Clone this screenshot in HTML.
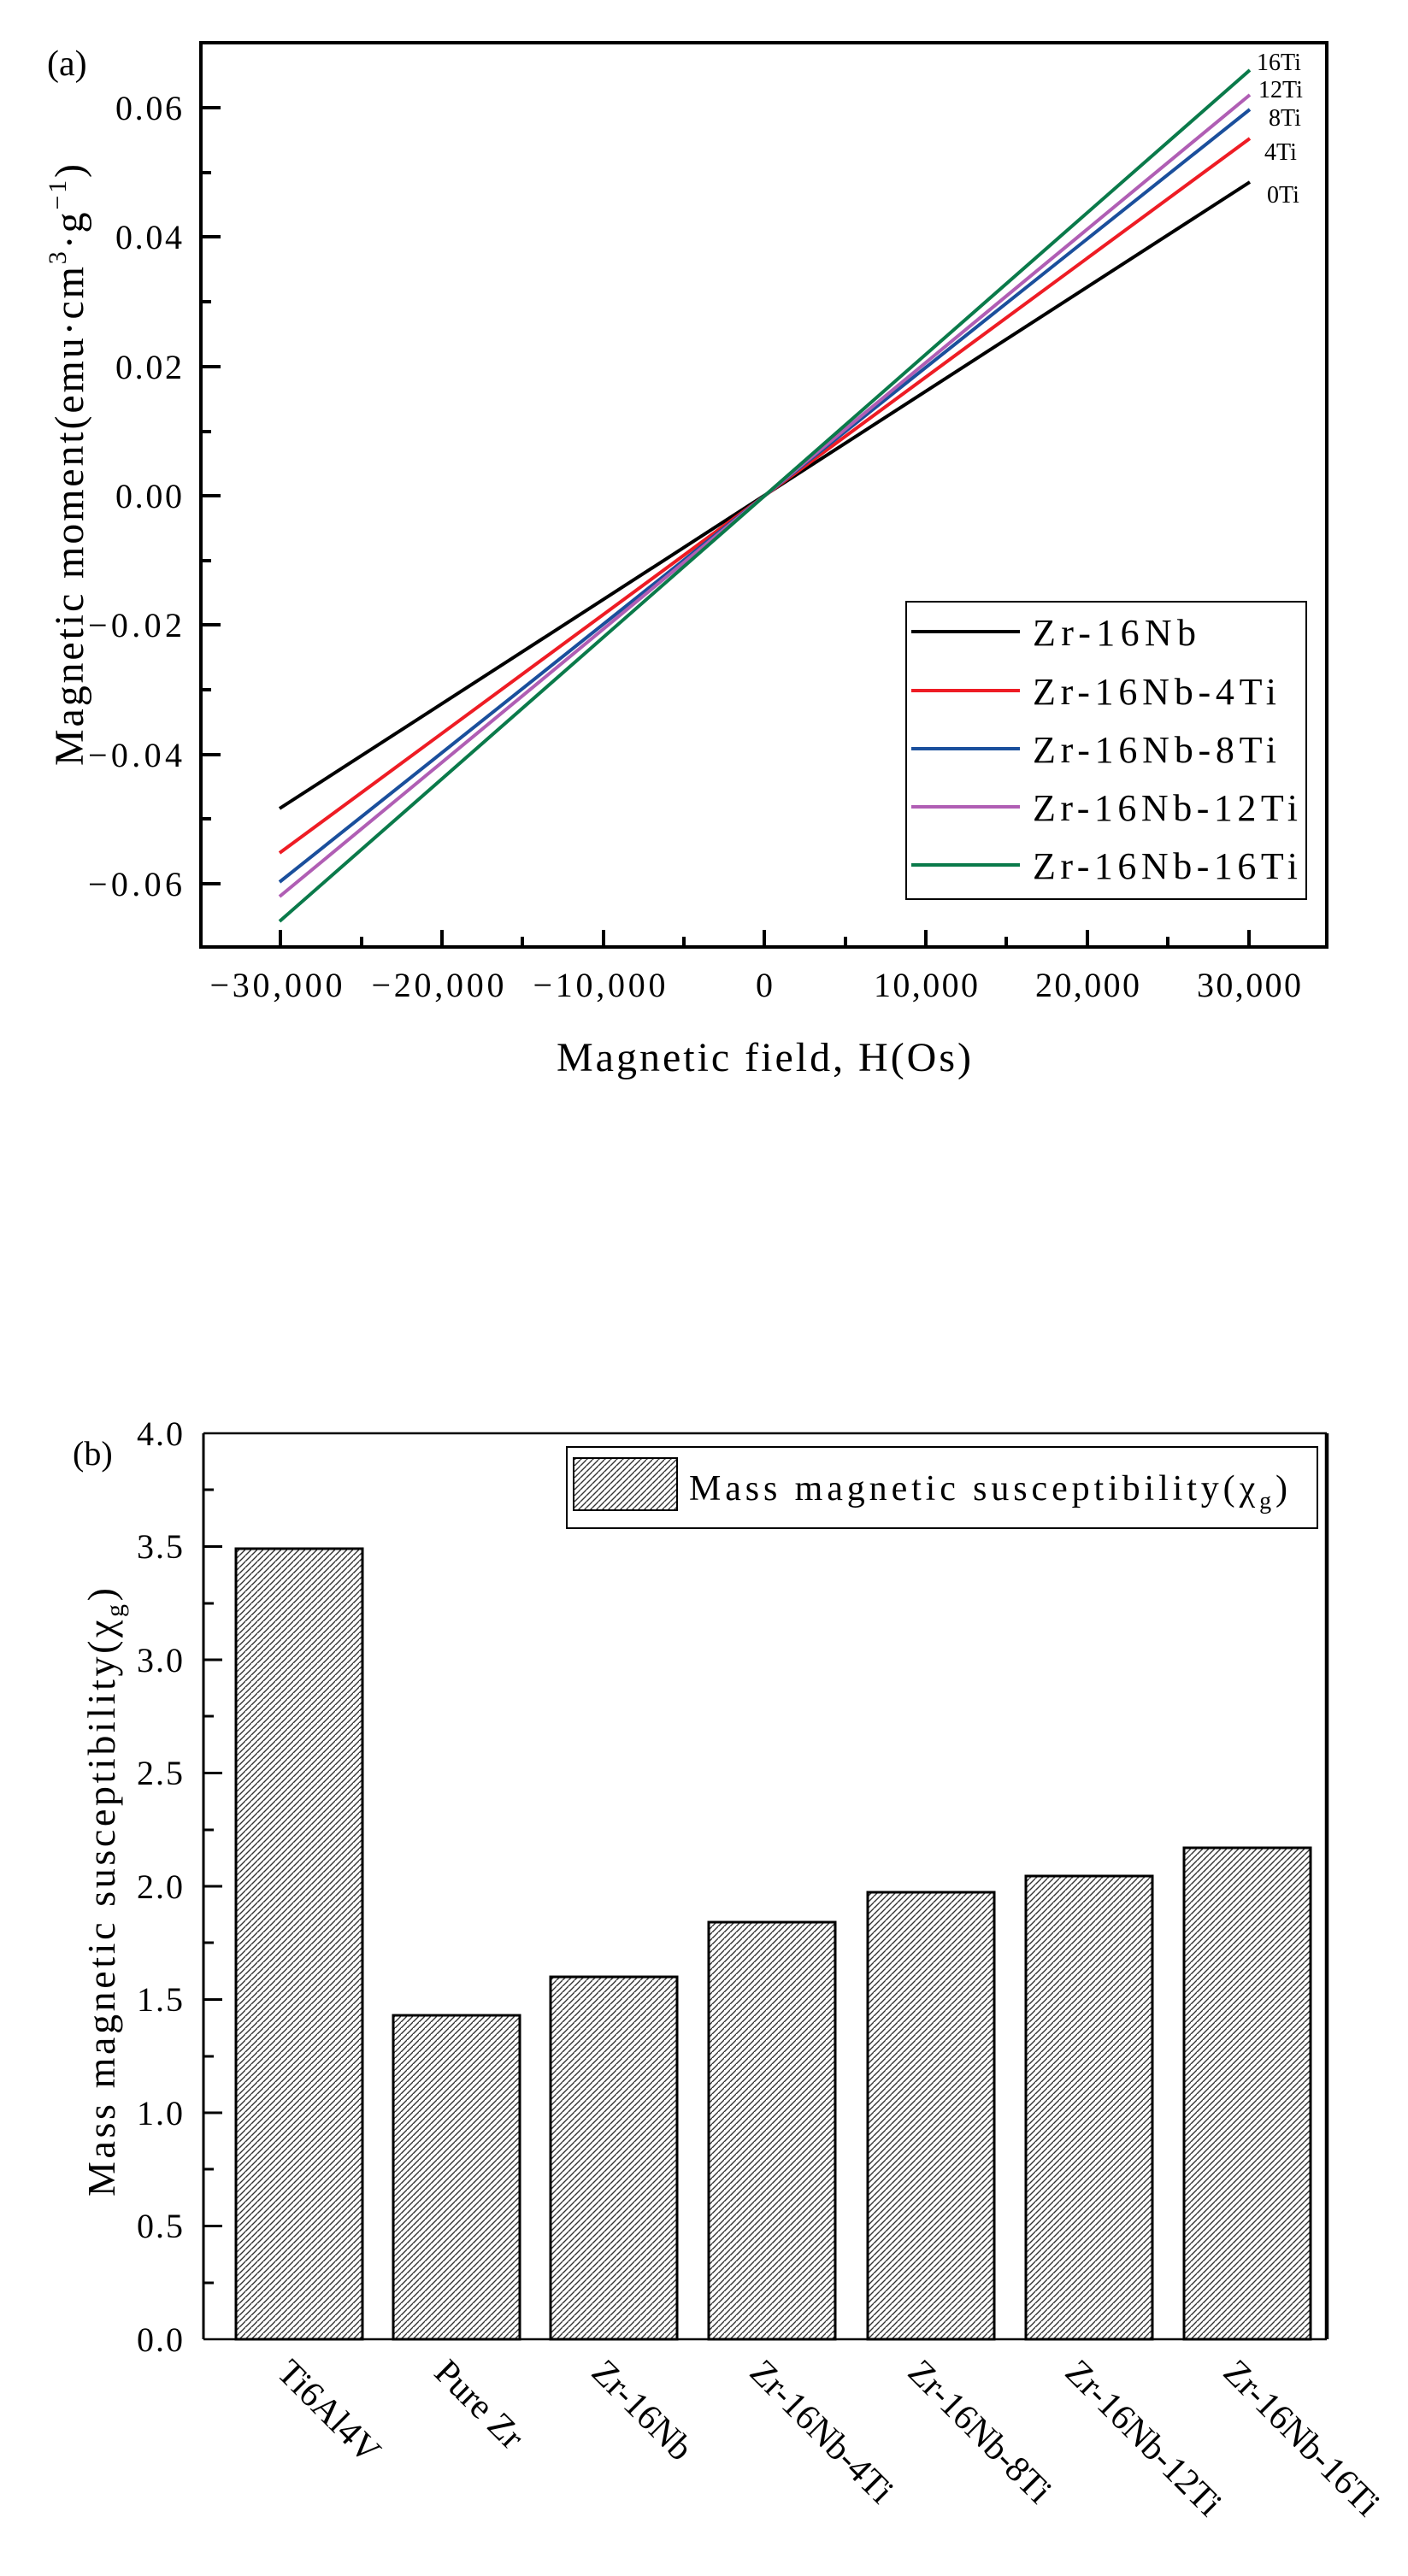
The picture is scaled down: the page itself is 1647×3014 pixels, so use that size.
<!DOCTYPE html>
<html><head><meta charset="utf-8"><style>
html,body{margin:0;padding:0;background:#fff;}
svg{display:block;font-family:"Liberation Serif",serif;}
</style></head><body>
<svg width="1647" height="3014" viewBox="0 0 1647 3014" xmlns="http://www.w3.org/2000/svg">
<defs>
<pattern id="h" patternUnits="userSpaceOnUse" width="7" height="7">
<rect width="7" height="7" fill="#fff"/>
<path d="M-1,8 L8,-1 M-4.5,3.5 L3.5,-4.5 M3.5,10.5 L10.5,3.5" stroke="#333" stroke-width="1.4"/>
</pattern>
</defs>
<!-- Plot (a) -->
<text x="55" y="88" font-size="42">(a)</text>
<g stroke="#000" stroke-width="4" fill="none">
<rect x="235" y="50" width="1317" height="1058"/>
</g>
<g stroke="#000" stroke-width="4">
<line x1="235" y1="126" x2="258" y2="126"/><line x1="235" y1="277" x2="258" y2="277"/>
<line x1="235" y1="429" x2="258" y2="429"/><line x1="235" y1="580" x2="258" y2="580"/>
<line x1="235" y1="731" x2="258" y2="731"/><line x1="235" y1="883" x2="258" y2="883"/>
<line x1="235" y1="1034" x2="258" y2="1034"/>
<line x1="235" y1="202" x2="247" y2="202"/><line x1="235" y1="353" x2="247" y2="353"/>
<line x1="235" y1="505" x2="247" y2="505"/><line x1="235" y1="656" x2="247" y2="656"/>
<line x1="235" y1="807" x2="247" y2="807"/><line x1="235" y1="958" x2="247" y2="958"/>
<line x1="328" y1="1108" x2="328" y2="1088"/><line x1="517" y1="1108" x2="517" y2="1088"/>
<line x1="706" y1="1108" x2="706" y2="1088"/><line x1="894" y1="1108" x2="894" y2="1088"/>
<line x1="1083" y1="1108" x2="1083" y2="1088"/><line x1="1272" y1="1108" x2="1272" y2="1088"/>
<line x1="1461" y1="1108" x2="1461" y2="1088"/>
<line x1="423" y1="1108" x2="423" y2="1096"/><line x1="611" y1="1108" x2="611" y2="1096"/>
<line x1="800" y1="1108" x2="800" y2="1096"/><line x1="989" y1="1108" x2="989" y2="1096"/>
<line x1="1177" y1="1108" x2="1177" y2="1096"/><line x1="1366" y1="1108" x2="1366" y2="1096"/>
</g>
<g font-size="40" text-anchor="end">
<text x="213" y="140" textLength="78">0.06</text>
<text x="213" y="291" textLength="78">0.04</text>
<text x="213" y="443" textLength="78">0.02</text>
<text x="213" y="594" textLength="78">0.00</text>
<text x="213" y="745" textLength="110">−0.02</text>
<text x="213" y="897" textLength="110">−0.04</text>
<text x="213" y="1048" textLength="110">−0.06</text>
</g>
<g font-size="40" text-anchor="middle">
<text x="323" y="1166" textLength="155">−30,000</text>
<text x="512" y="1166" textLength="155">−20,000</text>
<text x="701" y="1166" textLength="155">−10,000</text>
<text x="894" y="1166">0</text>
<text x="1083" y="1166" textLength="122">10,000</text>
<text x="1272" y="1166" textLength="122">20,000</text>
<text x="1461" y="1166" textLength="122">30,000</text>
</g>
<text x="651" y="1253" font-size="48" textLength="485">Magnetic field, H(Os)</text>
<text transform="translate(97,896) rotate(-90)" font-size="48" textLength="704">Magnetic moment(emu·cm<tspan dy="-20" font-size="30">3</tspan><tspan dy="20">·g</tspan><tspan dy="-20" font-size="30">−1</tspan><tspan dy="20">)</tspan></text>
<g stroke-width="4" stroke-linecap="butt">
<line x1="327" y1="946" x2="1462" y2="213" stroke="#000"/>
<line x1="327" y1="998" x2="1462" y2="162" stroke="#ee1c24"/>
<line x1="327" y1="1032" x2="1462" y2="128" stroke="#1a4f9c"/>
<line x1="327" y1="1049" x2="1462" y2="111" stroke="#b05eb4"/>
<line x1="327" y1="1078" x2="1462" y2="82" stroke="#0a7a4a"/>
</g>
<g font-size="28">
<text x="1470" y="82">16Ti</text>
<text x="1472" y="114">12Ti</text>
<text x="1484" y="147">8Ti</text>
<text x="1479" y="187">4Ti</text>
<text x="1482" y="237">0Ti</text>
</g>
<rect x="1060" y="704" width="468" height="348" fill="#fff" stroke="#000" stroke-width="2"/>
<g stroke-width="4">
<line x1="1066" y1="739" x2="1193" y2="739" stroke="#000"/>
<line x1="1066" y1="808" x2="1193" y2="808" stroke="#ee1c24"/>
<line x1="1066" y1="876" x2="1193" y2="876" stroke="#1a4f9c"/>
<line x1="1066" y1="944" x2="1193" y2="944" stroke="#b05eb4"/>
<line x1="1066" y1="1012" x2="1193" y2="1012" stroke="#0a7a4a"/>
</g>
<g font-size="44">
<text x="1208" y="755" textLength="191">Zr-16Nb</text>
<text x="1208" y="824" textLength="285">Zr-16Nb-4Ti</text>
<text x="1208" y="892" textLength="285">Zr-16Nb-8Ti</text>
<text x="1208" y="960" textLength="310">Zr-16Nb-12Ti</text>
<text x="1208" y="1028" textLength="310">Zr-16Nb-16Ti</text>
</g>

<!-- Plot (b) -->
<text x="85" y="1714" font-size="40">(b)</text>
<line x1="238" y1="1677" x2="1552" y2="1677" stroke="#000" stroke-width="2.5"/>
<line x1="238" y1="1677" x2="238" y2="2737" stroke="#000" stroke-width="3"/>
<line x1="238" y1="2737" x2="1552" y2="2737" stroke="#000" stroke-width="2.5"/>
<line x1="1552" y1="1677" x2="1552" y2="2737" stroke="#000" stroke-width="4.5"/>
<g stroke="#000" stroke-width="3">
<line x1="238" y1="1809.5" x2="260" y2="1809.5"/><line x1="238" y1="1942" x2="260" y2="1942"/>
<line x1="238" y1="2074.5" x2="260" y2="2074.5"/><line x1="238" y1="2207" x2="260" y2="2207"/>
<line x1="238" y1="2339.5" x2="260" y2="2339.5"/><line x1="238" y1="2472" x2="260" y2="2472"/>
<line x1="238" y1="2604.5" x2="260" y2="2604.5"/>
<line x1="238" y1="1743" x2="250" y2="1743"/><line x1="238" y1="1876" x2="250" y2="1876"/>
<line x1="238" y1="2008" x2="250" y2="2008"/><line x1="238" y1="2141" x2="250" y2="2141"/>
<line x1="238" y1="2273" x2="250" y2="2273"/><line x1="238" y1="2406" x2="250" y2="2406"/>
<line x1="238" y1="2538" x2="250" y2="2538"/><line x1="238" y1="2671" x2="250" y2="2671"/>
</g>
<g font-size="40" text-anchor="end">
<text x="214" y="1691" textLength="54">4.0</text>
<text x="214" y="1823" textLength="54">3.5</text>
<text x="214" y="1956" textLength="54">3.0</text>
<text x="214" y="2088" textLength="54">2.5</text>
<text x="214" y="2221" textLength="54">2.0</text>
<text x="214" y="2353" textLength="54">1.5</text>
<text x="214" y="2486" textLength="54">1.0</text>
<text x="214" y="2618" textLength="54">0.5</text>
<text x="214" y="2751" textLength="54">0.0</text>
</g>
<text transform="translate(134,2570) rotate(-90)" font-size="46" textLength="712">Mass magnetic susceptibility(χ<tspan dy="10" font-size="30">g</tspan><tspan dy="-10">)</tspan></text>
<g fill="url(#h)" stroke="#000" stroke-width="3">
<rect x="276" y="1812" width="148" height="925"/>
<rect x="460" y="2358" width="148" height="379"/>
<rect x="644" y="2313" width="148" height="424"/>
<rect x="829" y="2249" width="148" height="488"/>
<rect x="1015" y="2214" width="148" height="523"/>
<rect x="1200" y="2195" width="148" height="542"/>
<rect x="1385" y="2162" width="148" height="575"/>
</g>
<g font-size="42">
<text transform="translate(322,2778) rotate(45)">Ti6Al4V</text>
<text transform="translate(506,2778) rotate(45)">Pure Zr</text>
<text transform="translate(690,2778) rotate(45)">Zr-16Nb</text>
<text transform="translate(875,2778) rotate(45)">Zr-16Nb-4Ti</text>
<text transform="translate(1060,2778) rotate(45)">Zr-16Nb-8Ti</text>
<text transform="translate(1244,2778) rotate(45)">Zr-16Nb-12Ti</text>
<text transform="translate(1429,2778) rotate(45)">Zr-16Nb-16Ti</text>
</g>
<rect x="663" y="1693" width="878" height="95" fill="#fff" stroke="#000" stroke-width="2"/>
<rect x="671" y="1706" width="121" height="61" fill="url(#h)" stroke="#000" stroke-width="2"/>
<text x="806" y="1755" font-size="42" textLength="700">Mass magnetic susceptibility(χ<tspan dy="10" font-size="28">g</tspan><tspan dy="-10">)</tspan></text>
</svg>
</body></html>
